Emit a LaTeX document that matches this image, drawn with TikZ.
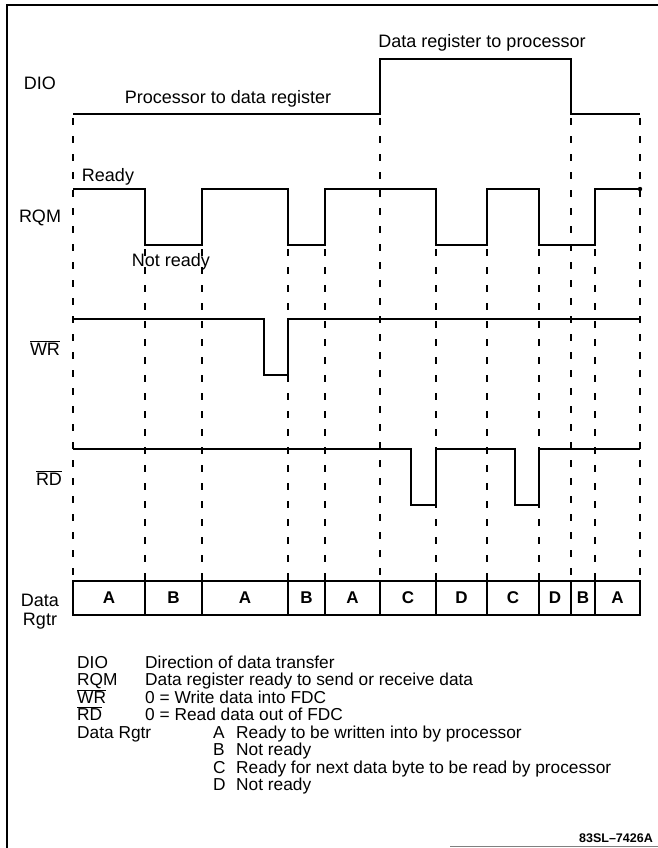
\documentclass[tikz,border=0pt]{standalone}
\usepackage{fontspec}
\setmainfont{Liberation Sans}
\begin{document}
\begin{tikzpicture}[x=1pt,y=-1pt,
  sig/.style={line width=2.9pt, line join=miter},
  dsh/.style={line width=1.4pt, dash pattern=on 7pt off 11pt},
  lbl/.style={font=\fontsize{18}{20}\selectfont, inner sep=0pt},
  leg/.style={font=\fontsize{17.3}{18}\selectfont, inner sep=0pt, anchor=base west},
  cell/.style={font=\fontsize{17}{18}\selectfont\bfseries, inner sep=0pt}]
\useasboundingbox (0,0) rectangle (658,848);
% frame
\draw[line width=2.2pt] (658,5) -- (7,5) -- (7,848);
\draw[line width=1pt, gray] (450,846) -- (658,846);
% dashed guides from DIO level
\foreach \x in {73,380,571,640} \draw[dsh] (\x,118) -- (\x,581);
% dashed guides from RQM low level
\foreach \x in {145,202,288,325,436,487,539,595} \draw[dsh] (\x,249) -- (\x,581);
% DIO
\draw[sig] (73,114) -- (380,114) -- (380,59) -- (571,59) -- (571,114) -- (640,114);
% RQM
\draw[sig] (73,189) -- (145,189) -- (145,245) -- (202,245) -- (202,189) -- (288,189) -- (288,245) -- (325,245) -- (325,189) -- (436,189) -- (436,245) -- (487,245) -- (487,189) -- (539,189) -- (539,245) -- (595,245) -- (595,189) -- (640,189);
\fill (640,189) circle (2.2pt);
% WR
\draw[sig] (73,319) -- (264,319) -- (264,375) -- (288,375) -- (288,319) -- (640,319);
% RD
\draw[sig] (73,449) -- (411,449) -- (411,505) -- (436,505) -- (436,449) -- (515,449) -- (515,505) -- (539,505) -- (539,449) -- (640,449);
% labels
\node[lbl] (ldio) at (40,83) {DIO};
\node[lbl] (lp2d) at (228,99) {Processor to data register};
\node[lbl] (ld2p) at (482,43) {Data register to processor};
\node[lbl] (lready) at (108,177) {Ready};
\node[lbl] (lrqm) at (40,218) {RQM};
\node[lbl] (lnot) at (171,262) {Not ready};
\node[lbl] (lwr) at (45,348) {$\overline{\mbox{WR}}$};
\node[lbl] (lrd) at (49,478) {$\overline{\mbox{RD}}$};
\node[lbl] (ldata) at (40,600) {Data};
\node[lbl] (lrgtr) at (40,621) {Rgtr};
% data register boxes
\draw[line width=1.4pt] (73,581) rectangle (640,615);
\foreach \x in {145,202,288,325,380,436,487,539,571,595} \draw[line width=1.4pt] (\x,581) -- (\x,615);
\node[cell] (c1) at (109,598) {A};
\node[cell] (c2) at (173.5,598) {B};
\node[cell] (c3) at (245,598) {A};
\node[cell] (c4) at (306.5,598) {B};
\node[cell] (c5) at (352.5,598) {A};
\node[cell] (c6) at (408,598) {C};
\node[cell] (c7) at (461.5,598) {D};
\node[cell] (c8) at (513,598) {C};
\node[cell] (c9) at (555,598) {D};
\node[cell] (c10) at (583,598) {B};
\node[cell] (c11) at (617.5,598) {A};
% legend (baselines)
\node[leg] (g1a) at (77,668) {DIO};
\node[leg] (g1b) at (145,668) {Direction of data transfer};
\node[leg] (g2a) at (77,685.5) {RQM};
\node[leg] (g2b) at (145,685.5) {Data register ready to send or receive data};
\node[leg] (g3a) at (77,703) {$\overline{\mbox{WR}}$};
\node[leg] (g3b) at (145,703) {0 = Write data into FDC};
\node[leg] (g4a) at (77,720.5) {$\overline{\mbox{RD}}$};
\node[leg] (g4b) at (145,720.5) {0 = Read data out of FDC};
\node[leg] (g5a) at (77,738) {Data Rgtr};
\node[leg] (g5b) at (213,738) {A};
\node[leg] (g5c) at (236,738) {Ready to be written into by processor};
\node[leg] (g6b) at (213,755.5) {B};
\node[leg] (g6c) at (236,755.5) {Not ready};
\node[leg] (g7b) at (213,773) {C};
\node[leg] (g7c) at (236,773) {Ready for next data byte to be read by processor};
\node[leg] (g8b) at (213,790.5) {D};
\node[leg] (g8c) at (236,790.5) {Not ready};
\node[font=\fontsize{12.5}{14}\selectfont\bfseries, inner sep=0pt, anchor=east] (code) at (653,838) {83SL–7426A};
\end{tikzpicture}
\end{document}
